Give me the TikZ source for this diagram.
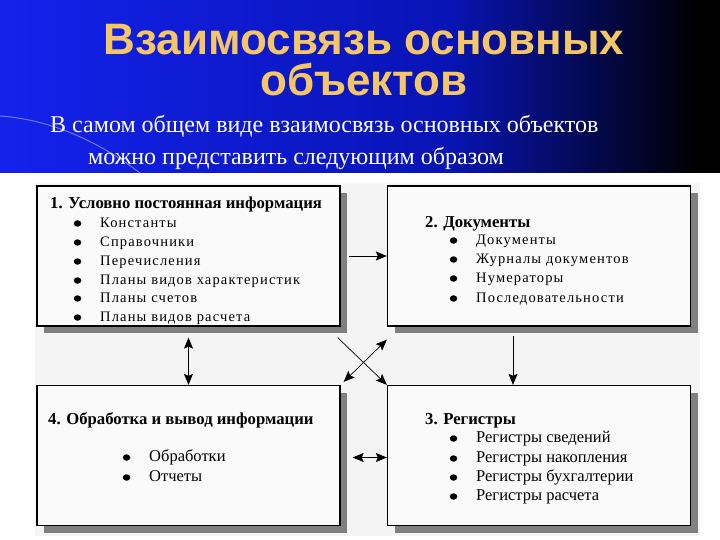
\documentclass[tikz,border=0pt]{standalone}
\usepackage{fontspec}
\setmainfont{Liberation Serif}
\newfontfamily\headsans{Liberation Sans}
\newfontfamily\spacedserif[LetterSpace=8]{Liberation Serif}
\usetikzlibrary{positioning, arrows.meta, shadows}

\definecolor{bannerblue}{RGB}{20,34,236}
\definecolor{bannermid}{RGB}{8,20,180}
\definecolor{titlegold}{RGB}{244,198,104}
\definecolor{panelgray}{RGB}{244,244,244}
\definecolor{boxfill}{RGB}{250,250,250}
\definecolor{shadowgray}{RGB}{128,128,128}

\tikzset{
  objbox/.style={draw, line width=1.3pt, fill=boxfill, minimum width=303pt, minimum height=140pt, inner sep=0pt,
    drop shadow={shadow xshift=7pt, shadow yshift=-7pt, fill=shadowgray, opacity=1}},
  hdr/.style={anchor=base west, inner sep=0pt, font=\bfseries\fontsize{16.7}{19}\selectfont},
  bulleted/.style={anchor=base west, inner sep=0pt, text height=10pt, text depth=3pt,
    label={[ellipse, fill=black, inner sep=0pt, minimum width=7.5pt, minimum height=6.5pt, label distance=18.5pt]west:{}}},
  itemwide/.style={bulleted, font=\spacedserif\fontsize{14.5}{16}\selectfont},
  itemplain/.style={bulleted, font=\fontsize{16.5}{18}\selectfont},
  link/.style={line width=0.9pt, -{Stealth[length=11pt, width=9pt, inset=2pt]}},
  dlink/.style={line width=0.9pt, {Stealth[length=11pt, width=9pt, inset=2pt]}-{Stealth[length=11pt, width=9pt, inset=2pt]}}
}

\usetikzlibrary{shapes.geometric}

\begin{document}
\begin{tikzpicture}[x=1pt, y=-1pt]
            \useasboundingbox (0,0) rectangle (720,540);
            \fill[white] (0,0) rectangle (720,540);

            % Banner
            \shade[left color=bannerblue, right color=bannermid] (0,0) rectangle (450,173);
            \shade[left color=bannermid, right color=black] (450,0) rectangle (700,173);
            \fill[black] (700,0) rectangle (720,173);
            \draw[white, opacity=0.4, line width=1pt] (0,116) .. controls (60,120) and (110,150) .. (140,173);

            \node (title1) [font=\headsans\bfseries\fontsize{44}{48}\selectfont, text=titlegold] at (364,40) {Взаимосвязь основных};
            \node (title2) [font=\headsans\bfseries\fontsize{44}{48}\selectfont, text=titlegold] at (364,80) {объектов};
            \node (sub1) [anchor=base west, inner sep=0pt, font=\fontsize{24}{26}\selectfont, text=white] at (50,133) {В самом общем виде взаимосвязь основных объектов};
            \node (sub2) [anchor=base west, inner sep=0pt, font=\fontsize{24}{26}\selectfont, text=white] at (88,165) {можно представить следующим образом};

            % Panel and boxes
            \fill[panelgray] (35,183) rectangle (700,536);
            \node (cond) [objbox] at (188.5,256) {};
            \node (docs) [objbox] at (539,256) {};
            \node (proc) [objbox] at (188.5,455.5) {};
            \node (regs) [objbox] at (539,455.5) {};

            % 1. Conditionally constant information
            \node (h1) [hdr] at (50,208) {1. Условно постоянная информация};
            \node (c1) [itemwide] at (100,227) {Константы};
            \node (c2) [itemwide] at (100,246) {Справочники};
            \node (c3) [itemwide] at (100,265) {Перечисления};
            \node (c4) [itemwide] at (100,284) {Планы видов характеристик};
            \node (c5) [itemwide] at (100,302) {Планы счетов};
            \node (c6) [itemwide] at (100,321) {Планы видов расчета};

            % 2. Documents
            \node (h2) [hdr] at (425,227) {2. Документы};
            \node (d1) [itemwide] at (476,244) {Документы};
            \node (d2) [itemwide] at (476,263) {Журналы документов};
            \node (d3) [itemwide] at (476,282) {Нумераторы};
            \node (d4) [itemwide] at (476,302) {Последовательности};

            % 4. Processing and output
            \node (h4) [hdr] at (48,424) {4. Обработка и вывод информации};
            \node (p1) [itemplain] at (149,461) {Обработки};
            \node (p2) [itemplain] at (149,481) {Отчеты};

            % 3. Registers
            \node (h3) [hdr] at (425,424) {3. Регистры};
            \node (r1) [itemplain] at (476,442) {Регистры сведений};
            \node (r2) [itemplain] at (476,462) {Регистры накопления};
            \node (r3) [itemplain] at (476,481) {Регистры бухгалтерии};
            \node (r4) [itemplain] at (476,500) {Регистры расчета};

            % Links
            \draw[link] ([xshift=8pt]cond.east) -- (docs.west);
            \draw[dlink] ([xshift=12pt, yshift=-2pt]proc.east) -- ([yshift=-2pt]regs.west);
            \draw[dlink] ([yshift=-11pt]cond.south) -- (proc.north);
            \draw[link] ([xshift=-26pt, yshift=-9pt]docs.south) -- ([xshift=-26pt]regs.north);
            \draw[link, line width=0.7pt] ([xshift=-3pt, yshift=-11pt]cond.south east) -- (regs.north west);
            \draw[dlink, line width=0.7pt] ([yshift=-13pt]docs.south west) -- ([xshift=3pt, yshift=3pt]proc.north east);

        \end{tikzpicture}
\end{document}
